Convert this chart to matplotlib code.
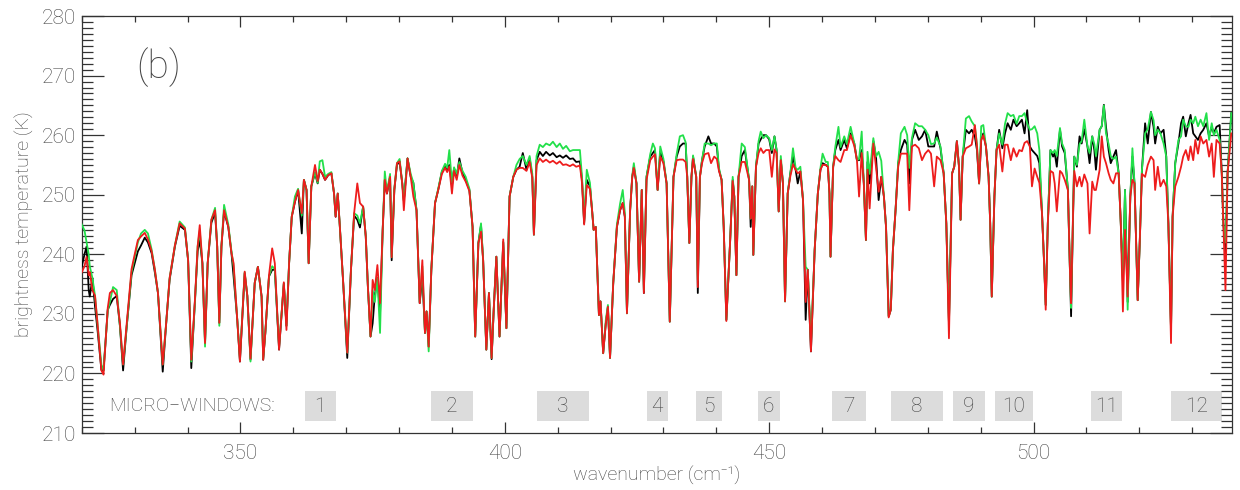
import matplotlib
matplotlib.use('Agg')
import matplotlib.pyplot as plt
from matplotlib.ticker import MultipleLocator

plt.rcParams['font.family'] = ['Roboto', 'DejaVu Sans']
plt.rcParams['font.weight'] = 'light'
plt.rcParams['axes.labelweight'] = 'light'

# Spectrum sample points (wavenumber, cm-1)
wavenumber = [
    320.0, 320.5, 320.9, 321.3, 321.5, 322.0, 322.5, 323.0, 323.7, 324.1,
    324.9, 325.3, 325.9, 326.6, 327.2, 327.8, 328.5, 329.4, 330.0, 330.6,
    331.2, 331.9, 332.5, 333.2, 333.8, 334.4, 335.3, 336.0, 336.6, 337.6,
    338.5, 339.5, 340.1, 340.7, 341.4, 341.9, 342.3, 342.8, 343.3, 343.8,
    344.5, 345.2, 345.6, 346.0, 346.4, 346.9, 347.7, 348.3, 348.7, 349.4,
    349.9, 350.8, 351.3, 351.9, 352.7, 353.3, 354.0, 354.3, 354.7, 355.4,
    356.0, 356.5, 357.3, 358.2, 358.7, 359.2, 359.7, 360.3, 360.9, 361.6,
    362.0, 362.5, 362.9, 363.4, 364.1, 364.6, 365.0, 365.5, 366.0, 366.6,
    367.2, 367.7, 368.0, 368.4, 368.8, 369.4, 370.2, 370.9, 371.5, 372.1,
    372.6, 373.2, 373.7, 374.1, 374.6, 375.0, 375.4, 375.9, 376.4, 376.9,
    377.3, 377.7, 378.3, 378.6, 379.1, 379.6, 380.1, 380.6, 380.9, 381.6,
    382.2, 382.7, 383.3, 383.9, 384.4, 384.9, 385.2, 385.6, 386.1, 386.8,
    387.4, 388.1, 388.7, 389.1, 389.5, 390.0, 390.4, 390.9, 391.4, 392.0,
    392.6, 393.3, 393.9, 394.4, 395.0, 395.5, 395.9, 396.5, 397.0, 397.5,
    397.9, 398.4, 399.0, 399.7, 400.3, 400.9, 401.6, 402.2, 402.8, 403.4,
    404.1, 404.7, 405.2, 405.5, 406.0, 406.6, 407.2, 407.8, 408.5, 409.1,
    409.8, 410.4, 411.0, 411.6, 412.3, 412.9, 413.5, 414.2, 414.6, 415.0,
    415.5, 416.1, 416.5, 416.8, 417.2, 417.8, 418.1, 418.6, 419.1, 419.5,
    419.9, 420.5, 421.2, 421.8, 422.3, 422.7, 423.1, 423.7, 424.1, 424.4,
    424.9, 425.4, 425.9, 426.3, 426.8, 427.5, 428.0, 428.4, 428.9, 429.4,
    430.0, 430.6, 431.2, 431.9, 432.5, 433.1, 433.7, 434.2, 434.5, 434.9,
    435.3, 435.6, 436.2, 436.5, 436.9, 437.3, 437.8, 438.5, 439.0, 439.6,
    440.1, 440.5, 441.0, 441.4, 441.9, 442.6, 443.1, 443.4, 443.8, 444.2,
    444.8, 445.4, 446.2, 446.5, 446.8, 447.0, 447.5, 448.0, 448.4, 448.9,
    449.4, 450.0, 450.5, 451.0, 451.4, 451.8, 452.2, 452.6, 453.0, 453.5,
    454.0, 454.5, 455.0, 455.4, 455.9, 456.4, 456.9, 457.3, 457.9, 458.6,
    459.2, 459.7, 460.1, 460.7, 461.1, 461.4, 461.6, 462.1, 462.5, 463.1,
    463.5, 464.2, 464.7, 465.4, 466.1, 466.6, 467.0, 467.5, 467.9, 468.3,
    468.6, 469.0, 469.7, 470.2, 470.7, 471.2, 471.7, 472.1, 472.6, 473.0,
    473.4, 473.9, 474.4, 474.9, 475.6, 476.1, 476.5, 477.0, 477.6, 478.3,
    478.9, 479.5, 480.1, 480.6, 481.2, 481.7, 482.4, 483.0, 483.5, 484.0,
    484.6, 485.0, 485.5, 485.9, 486.2, 486.6, 487.2, 487.8, 488.3, 488.9,
    489.3, 489.7, 490.1, 490.5, 491.0, 491.5, 491.8, 492.1, 492.6, 493.0,
    493.5, 494.1, 494.6, 495.1, 495.7, 496.2, 496.8, 497.3, 497.8, 498.3,
    498.8, 499.3, 499.7, 500.2, 500.7, 501.1, 501.6, 502.0, 502.3, 502.7,
    503.2, 503.7, 504.0, 504.4, 505.0, 505.4, 505.9, 506.5, 506.9, 507.1,
    507.5, 507.7, 508.2, 508.7, 509.1, 509.6, 510.2, 510.6, 511.1, 511.5,
    511.8, 512.5, 512.9, 513.3, 513.7, 514.2, 514.6, 515.1, 515.6, 516.1,
    516.5, 516.9, 517.3, 517.8, 518.3, 518.7, 519.1, 519.7, 520.1, 520.5,
    521.1, 521.6, 522.2, 522.7, 523.0, 523.5, 524.0, 524.6, 525.1, 525.5,
    526.0, 526.3, 526.8, 527.4, 527.9, 528.3, 528.8, 529.3, 529.7, 530.2,
    530.6, 531.1, 531.6, 532.1, 532.7, 533.2, 533.7, 534.1, 534.6, 535.2,
    535.6, 535.9, 536.3, 536.7, 537.4,
]

# Brightness temperature (K), black curve
bt_black = [
    238.0, 240.0, 241.3, 234.0, 232.9, 236.0, 231.2, 227.0, 220.6, 220.5,
    230.7, 231.5, 232.5, 233.0, 228.0, 220.5, 228.0, 236.5, 238.5, 240.5,
    241.5, 242.8, 242.0, 240.2, 237.0, 233.5, 220.3, 229.0, 235.7, 241.3,
    244.8, 244.1, 239.0, 220.9, 232.4, 240.5, 242.4, 238.5, 225.1, 238.5,
    245.3, 247.0, 241.3, 228.5, 241.3, 247.2, 244.6, 240.2, 236.3, 229.0,
    222.0, 236.8, 233.0, 222.3, 235.2, 237.9, 232.9, 222.3, 226.8, 236.3,
    237.4, 237.4, 224.0, 235.1, 228.0, 238.5, 246.3, 248.8, 250.8, 243.5,
    252.5, 250.8, 238.5, 251.4, 253.6, 251.9, 254.2, 253.5, 252.5, 253.3,
    253.6, 250.2, 246.3, 250.2, 244.6, 235.7, 222.6, 237.4, 246.5, 245.8,
    244.5, 248.0, 243.0, 234.6, 226.2, 228.4, 233.0, 236.0, 230.0, 244.1,
    252.5, 250.2, 253.0, 239.0, 250.8, 255.0, 255.6, 251.9, 249.0, 256.1,
    253.0, 252.0, 247.4, 231.8, 236.3, 226.8, 230.4, 224.5, 237.4, 248.6,
    250.8, 253.9, 254.7, 254.2, 255.0, 251.5, 254.4, 253.0, 256.1, 253.6,
    252.5, 250.8, 244.6, 226.2, 241.9, 244.9, 239.0, 224.0, 233.5, 222.4,
    230.7, 239.6, 226.2, 242.0, 227.6, 249.7, 253.0, 254.2, 254.7, 257.0,
    254.2, 256.1, 253.0, 243.3, 255.8, 257.2, 256.5, 257.2, 256.6, 257.0,
    256.3, 256.6, 256.2, 256.6, 256.0, 256.1, 255.5, 255.6, 252.5, 245.2,
    252.5, 251.4, 247.4, 244.1, 244.6, 229.8, 232.1, 223.4, 228.4, 231.2,
    222.6, 235.1, 244.6, 247.4, 248.6, 246.3, 230.1, 247.4, 253.0, 254.7,
    251.9, 235.4, 250.8, 233.5, 253.0, 256.4, 257.0, 257.5, 250.8, 257.2,
    255.6, 251.9, 228.7, 253.0, 256.4, 258.1, 258.6, 258.6, 253.0, 241.9,
    253.0, 256.4, 253.0, 233.5, 253.0, 255.8, 258.1, 259.8, 258.6, 258.6,
    258.1, 254.2, 252.5, 244.6, 229.0, 241.9, 252.5, 249.7, 236.5, 253.0,
    256.5, 257.5, 252.5, 244.6, 251.4, 239.9, 254.7, 258.6, 259.3, 260.0,
    260.0, 259.3, 257.0, 259.8, 257.5, 247.2, 255.8, 251.9, 232.1, 250.2,
    253.6, 256.4, 254.2, 251.9, 253.9, 249.1, 229.0, 237.4, 223.7, 240.7,
    250.2, 254.2, 255.3, 255.0, 254.7, 250.2, 239.6, 254.7, 257.5, 259.2,
    257.5, 259.2, 257.8, 260.3, 258.6, 255.8, 255.8, 257.5, 251.9, 242.4,
    255.5, 251.9, 259.0, 256.4, 249.1, 253.0, 249.7, 244.6, 229.6, 230.7,
    240.7, 247.4, 255.3, 257.5, 259.2, 258.4, 251.9, 259.2, 260.9, 259.2,
    259.8, 260.9, 258.1, 258.1, 258.1, 260.6, 257.8, 253.6, 245.2, 228.4,
    253.6, 254.7, 259.0, 254.7, 245.8, 256.4, 260.9, 260.3, 260.9, 259.8,
    257.5, 251.9, 259.2, 260.3, 258.1, 253.0, 245.2, 232.9, 249.7, 257.5,
    260.9, 257.8, 260.3, 262.0, 260.9, 262.6, 261.5, 262.0, 262.6, 260.3,
    264.2, 258.1, 257.5, 257.0, 256.5, 255.3, 246.9, 238.5, 231.5, 245.2,
    257.5, 256.4, 257.0, 254.7, 260.9, 258.1, 257.0, 250.8, 236.8, 229.6,
    248.0, 256.4, 254.7, 259.8, 258.6, 261.0, 258.1, 255.3, 259.8, 257.5,
    254.2, 260.9, 261.5, 265.1, 261.4, 257.5, 255.3, 256.4, 257.5, 253.6,
    245.2, 235.5, 250.8, 232.0, 249.7, 256.4, 251.9, 232.3, 242.4, 254.2,
    262.0, 258.6, 263.9, 261.4, 258.6, 261.4, 260.3, 260.9, 256.4, 245.2,
    227.3, 246.3, 255.3, 258.6, 262.0, 263.1, 259.8, 262.0, 263.4, 260.3,
    259.8, 259.2, 260.3, 260.9, 262.0, 259.8, 261.4, 260.3, 261.4, 261.7,
    253.6, 245.2, 240.0, 253.6, 263.7,
]

# Brightness temperature (K), green curve
bt_green = [
    245.0, 244.0, 242.0, 240.0, 238.0, 236.0, 233.0, 228.0, 221.5, 220.5,
    230.5, 232.0, 234.5, 234.0, 228.0, 221.5, 228.0, 237.0, 239.5, 242.0,
    243.5, 244.1, 243.5, 240.8, 237.5, 233.5, 221.5, 229.0, 236.0, 241.5,
    245.5, 244.5, 239.0, 222.0, 232.0, 241.3, 244.0, 238.5, 224.5, 238.5,
    245.8, 247.8, 241.3, 228.0, 241.3, 248.3, 245.0, 240.5, 238.0, 229.0,
    222.5, 237.0, 233.0, 222.0, 235.2, 237.9, 232.9, 222.5, 226.8, 236.3,
    238.0, 237.5, 224.5, 235.1, 228.0, 238.5, 246.3, 249.7, 251.0, 246.5,
    252.5, 250.8, 238.5, 251.4, 253.8, 252.0, 255.6, 255.8, 253.0, 253.5,
    253.8, 250.2, 246.5, 250.2, 244.6, 235.7, 223.5, 237.4, 246.9, 246.5,
    245.2, 248.0, 243.0, 234.6, 226.2, 234.0, 232.0, 236.0, 226.8, 244.1,
    253.9, 250.5, 253.5, 239.5, 251.0, 255.3, 256.0, 252.0, 249.0, 256.1,
    253.5, 252.0, 247.4, 232.0, 238.0, 226.8, 230.4, 223.7, 237.4, 248.6,
    251.0, 254.0, 255.2, 254.5, 257.5, 252.0, 254.6, 253.5, 255.5, 254.0,
    253.0, 251.0, 244.6, 226.2, 241.9, 245.2, 239.0, 224.0, 233.5, 222.6,
    230.7, 239.6, 226.2, 242.1, 227.6, 249.7, 253.0, 255.0, 256.0, 256.5,
    255.0, 256.5, 253.5, 243.3, 256.5, 258.4, 258.0, 258.6, 258.3, 258.9,
    258.0, 258.6, 257.7, 258.2, 257.3, 257.5, 257.5, 257.5, 253.0, 245.5,
    254.2, 252.0, 247.4, 244.1, 244.6, 229.8, 232.1, 223.4, 229.0, 231.5,
    222.6, 235.1, 245.0, 248.5, 250.8, 247.0, 230.1, 247.4, 253.2, 255.3,
    252.0, 235.4, 250.8, 234.0, 253.0, 256.8, 258.6, 257.8, 250.8, 258.1,
    256.0, 251.9, 228.7, 253.0, 256.8, 259.8, 260.0, 258.8, 253.0, 241.9,
    253.0, 256.6, 253.0, 235.7, 253.0, 255.8, 258.6, 258.6, 258.3, 258.6,
    258.6, 254.5, 252.5, 244.6, 229.0, 241.9, 253.0, 249.7, 236.5, 253.0,
    258.6, 258.0, 252.5, 246.0, 251.4, 239.9, 254.7, 259.0, 260.6, 259.5,
    260.0, 259.5, 257.5, 259.8, 257.5, 247.2, 256.5, 251.9, 232.1, 250.2,
    253.6, 257.8, 254.5, 254.2, 254.7, 249.1, 237.9, 237.4, 225.0, 240.7,
    250.2, 254.5, 256.9, 255.5, 255.5, 250.2, 239.6, 254.7, 258.0, 261.4,
    258.0, 259.8, 258.5, 261.4, 258.6, 255.8, 256.0, 260.6, 251.9, 242.4,
    257.2, 253.5, 259.5, 256.4, 257.2, 255.7, 249.7, 244.6, 229.6, 230.7,
    240.7, 247.4, 255.5, 260.3, 261.4, 260.0, 254.5, 259.5, 262.0, 261.5,
    261.5, 260.9, 260.0, 258.5, 258.6, 259.6, 258.1, 253.6, 245.2, 228.4,
    253.6, 254.7, 259.0, 254.7, 245.8, 256.4, 262.8, 263.2, 262.3, 261.5,
    258.5, 251.9, 261.5, 261.7, 258.1, 253.0, 245.2, 232.9, 249.7, 257.5,
    260.3, 258.4, 261.9, 263.7, 263.2, 263.4, 261.9, 263.2, 263.2, 263.7,
    262.0, 260.9, 261.0, 261.5, 260.3, 257.5, 246.9, 238.5, 231.5, 245.2,
    257.5, 257.0, 257.5, 256.5, 261.2, 258.6, 257.5, 250.8, 236.8, 231.0,
    248.0, 256.4, 255.0, 258.5, 259.0, 262.6, 258.1, 257.0, 259.8, 258.5,
    256.5, 260.9, 261.5, 265.0, 260.3, 258.5, 256.5, 256.0, 256.4, 253.6,
    245.2, 235.5, 250.8, 230.7, 249.7, 257.8, 251.9, 232.3, 242.4, 254.2,
    260.3, 261.0, 263.9, 262.5, 260.0, 260.9, 260.3, 258.6, 256.4, 245.2,
    227.3, 246.3, 255.3, 259.2, 259.8, 262.6, 261.5, 261.4, 262.6, 262.0,
    263.1, 261.5, 262.6, 261.5, 263.7, 259.2, 262.0, 260.0, 260.9, 259.2,
    253.6, 245.2, 242.0, 253.6, 263.7,
]

# Brightness temperature (K), red curve
bt_red = [
    237.0, 238.0, 239.6, 236.5, 237.0, 234.0, 233.0, 228.0, 220.5, 219.8,
    231.0, 233.5, 234.0, 233.0, 228.5, 221.5, 228.5, 237.5, 240.0, 242.4,
    243.0, 243.6, 242.5, 240.5, 237.5, 233.5, 221.5, 229.0, 236.0, 241.5,
    245.2, 244.3, 239.0, 222.3, 232.5, 241.3, 244.9, 238.5, 225.1, 238.5,
    245.8, 247.4, 241.3, 228.5, 241.3, 247.4, 244.6, 240.2, 238.5, 229.0,
    222.0, 237.1, 233.0, 222.5, 235.2, 237.9, 232.9, 222.3, 226.8, 236.5,
    241.0, 238.5, 224.0, 235.3, 227.3, 238.5, 246.3, 248.8, 250.8, 246.9,
    252.5, 250.8, 238.5, 251.4, 255.0, 252.3, 254.2, 253.5, 252.5, 253.3,
    253.6, 250.2, 246.3, 250.2, 244.6, 235.7, 223.5, 237.4, 246.9, 251.9,
    248.6, 248.0, 243.0, 234.6, 226.2, 235.7, 234.0, 238.2, 231.8, 244.1,
    252.5, 250.2, 253.0, 239.5, 250.8, 255.3, 255.6, 251.9, 247.4, 256.1,
    253.0, 249.7, 247.4, 231.8, 239.0, 226.8, 230.4, 224.5, 237.4, 248.6,
    250.8, 253.5, 254.5, 253.8, 254.7, 250.2, 254.0, 252.5, 255.0, 253.2,
    252.2, 250.6, 244.6, 226.2, 241.9, 243.8, 239.0, 224.0, 233.5, 222.6,
    230.7, 239.6, 226.2, 242.5, 227.6, 249.7, 253.0, 254.2, 254.5, 254.5,
    254.0, 255.5, 252.8, 243.3, 255.0, 256.1, 255.5, 255.9, 255.4, 255.7,
    255.2, 255.6, 255.0, 255.1, 254.8, 255.1, 254.7, 254.9, 252.0, 245.0,
    251.6, 251.0, 247.4, 244.1, 244.6, 229.8, 232.1, 223.4, 228.4, 231.2,
    222.6, 235.1, 244.6, 247.4, 248.6, 246.3, 230.1, 247.4, 253.0, 254.5,
    251.9, 235.4, 250.8, 233.5, 252.5, 255.8, 256.4, 256.8, 250.8, 256.4,
    255.3, 251.9, 228.7, 253.0, 255.8, 255.9, 255.9, 255.5, 253.0, 241.9,
    253.0, 256.0, 253.0, 234.5, 253.0, 255.3, 256.8, 257.0, 255.3, 256.4,
    256.0, 254.0, 252.5, 244.6, 228.8, 241.9, 252.3, 249.7, 236.5, 253.0,
    255.5, 255.5, 252.5, 246.0, 251.4, 239.9, 254.7, 257.0, 257.8, 257.0,
    257.5, 257.5, 253.0, 257.6, 257.0, 247.2, 255.8, 251.9, 232.1, 250.2,
    253.1, 255.1, 254.2, 253.6, 253.9, 249.1, 232.0, 237.4, 223.7, 240.7,
    250.2, 254.2, 255.0, 255.0, 254.7, 250.2, 239.6, 254.7, 256.5, 255.8,
    255.5, 257.5, 257.5, 260.0, 258.2, 255.8, 249.7, 257.0, 251.9, 242.4,
    254.2, 247.7, 258.6, 254.7, 250.5, 253.0, 249.7, 244.6, 229.4, 230.7,
    240.7, 247.4, 254.7, 256.9, 256.9, 256.9, 247.4, 258.1, 258.4, 257.8,
    255.8, 256.9, 257.5, 256.9, 251.4, 256.4, 255.8, 253.6, 245.2, 225.9,
    253.6, 254.7, 259.0, 254.7, 245.8, 256.4, 257.8, 258.1, 258.4, 261.7,
    258.1, 251.9, 259.2, 260.0, 258.1, 253.0, 245.2, 232.9, 249.7, 257.5,
    258.4, 253.9, 258.4, 258.4, 255.8, 257.8, 256.4, 257.5, 257.3, 258.7,
    259.0, 258.1, 251.4, 254.4, 253.0, 252.0, 246.9, 238.5, 230.7, 245.2,
    254.0, 253.7, 251.9, 247.2, 254.0, 253.6, 252.5, 250.8, 236.8, 231.8,
    248.0, 254.0, 251.4, 253.0, 251.4, 253.4, 251.9, 243.5, 252.2, 250.8,
    250.8, 254.2, 259.8, 256.4, 255.3, 253.6, 252.5, 251.9, 253.6, 253.6,
    245.2, 230.4, 244.1, 232.9, 249.7, 252.5, 251.9, 232.3, 242.4, 253.5,
    253.0, 255.0, 256.4, 255.8, 250.8, 254.7, 251.4, 252.5, 251.4, 245.2,
    225.1, 246.3, 251.4, 253.0, 254.7, 256.4, 257.5, 255.8, 258.1, 255.8,
    259.2, 256.9, 259.8, 258.6, 259.2, 256.4, 258.6, 253.0, 259.2, 258.6,
    253.6, 245.2, 234.0, 253.6, 260.3,
]

# Micro-window bands (start, end in cm-1)
mw_labels = ['1', '2', '3', '4', '5', '6', '7', '8', '9', '10', '11', '12']
mw_start = [362.2, 386.0, 406.1, 426.9, 436.1, 447.9, 461.9, 473.0, 484.7, 492.7, 510.8, 526.0]
mw_end = [368.0, 394.0, 415.9, 430.8, 441.1, 452.0, 468.3, 482.9, 490.8, 499.9, 516.7, 535.6]

txt_col = '#444444'

fig = plt.figure(figsize=(12.4, 4.9), dpi=100)
ax = fig.add_axes([0.066, 0.1163, 0.9274, 0.8510])

ax.plot(wavenumber, bt_black, color='black', lw=1.3, zorder=3)
ax.plot(wavenumber, bt_green, color='#22e04a', lw=1.3, zorder=4)
ax.plot(wavenumber, bt_red, color='#ee1c1c', lw=1.3, zorder=5)

# Micro-window boxes
widths = [e - s for s, e in zip(mw_start, mw_end)]
ax.bar(mw_start, [5] * len(mw_start), width=widths, bottom=212, align='edge',
       color='#dcdcdc', edgecolor='none', zorder=1)
for s, e, lab in zip(mw_start, mw_end, mw_labels):
    ax.text((s + e) / 2, 214.5, lab, ha='center', va='center',
            fontsize=15, color=txt_col, zorder=2)
ax.text(325.2, 214.6, 'MICRO\u2212WINDOWS:', ha='left', va='center',
        fontsize=14, color=txt_col)

ax.text(334.6, 271.5, '(b)', ha='center', va='center', fontsize=28, color=txt_col)

ax.set_xlim(320, 537.5)
ax.set_ylim(210, 280)
ax.xaxis.set_major_locator(MultipleLocator(50))
ax.xaxis.set_minor_locator(MultipleLocator(10))
ax.yaxis.set_major_locator(MultipleLocator(10))
ax.yaxis.set_minor_locator(MultipleLocator(1))

ax.tick_params(which='both', direction='in', top=True, right=True,
               colors='#333333', labelcolor=txt_col, labelsize=15, width=0.9)
ax.tick_params(axis='x', which='major', length=8, pad=8)
ax.tick_params(axis='x', which='minor', length=4)
ax.tick_params(axis='y', which='major', length=16, pad=4)
ax.tick_params(axis='y', which='minor', length=8)

for sp in ax.spines.values():
    sp.set_color('#333333')
    sp.set_linewidth(0.9)

ax.set_xlabel('wavenumber (cm\u207b\u00b9)', fontsize=14, color=txt_col,
              labelpad=2, fontweight='light')
ax.set_ylabel('brightness temperature (K)', fontsize=14, color=txt_col,
              labelpad=6, fontweight='light')

fig.savefig('out.png', dpi=100)
